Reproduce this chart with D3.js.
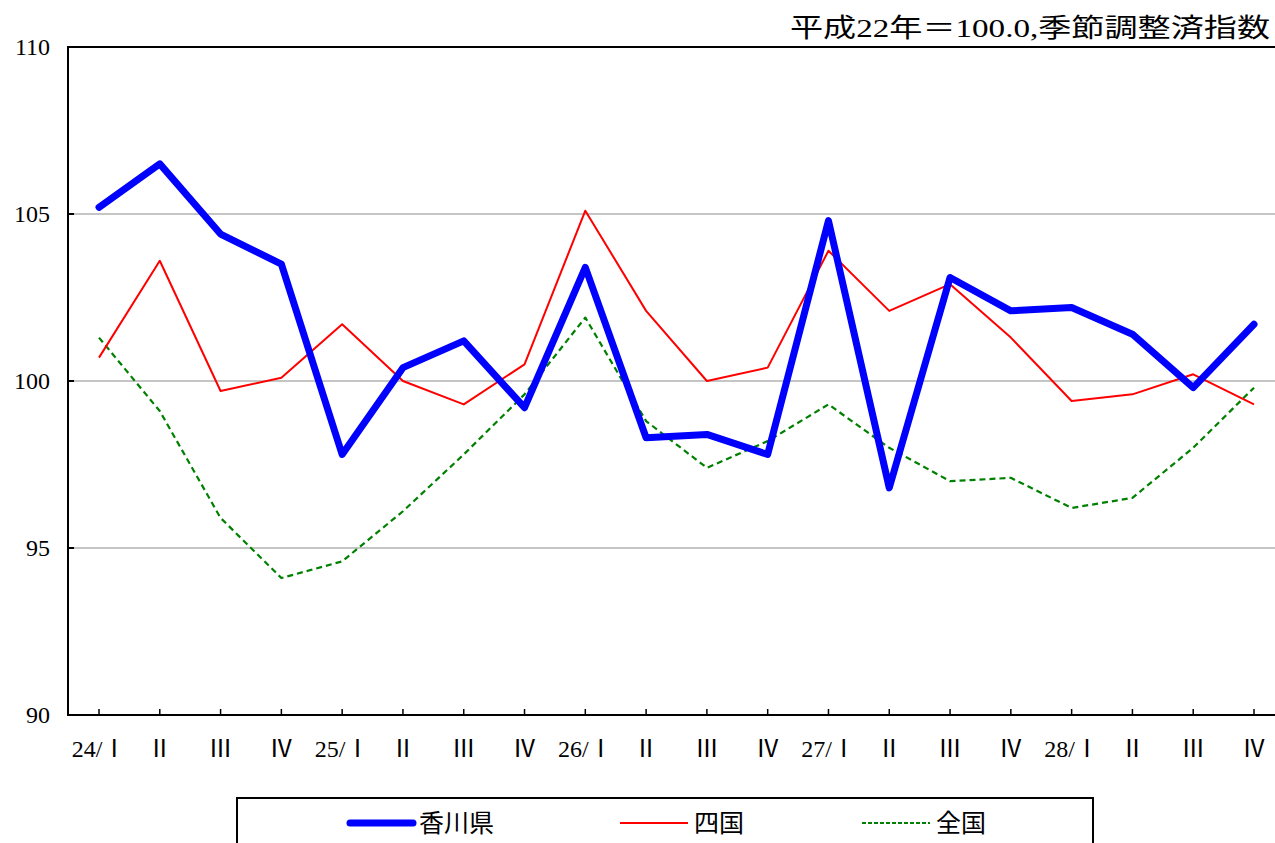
<!DOCTYPE html>
<html lang="ja">
<head>
<meta charset="utf-8">
<title>香川県 指数</title>
<script src="https://d3js.org/d3.v7.min.js"></script>
<style>
  body { margin: 0; background: #fff; }
  text { font-family: "Liberation Serif", "Noto Sans CJK JP", serif; }
</style>
</head>
<body>
<script>
// quarters, 24/I .. 28/IV
const quarters = ["24/Ⅰ", "Ⅱ", "Ⅲ", "Ⅳ", "25/Ⅰ", "Ⅱ", "Ⅲ", "Ⅳ", "26/Ⅰ", "Ⅱ", "Ⅲ", "Ⅳ",
                  "27/Ⅰ", "Ⅱ", "Ⅲ", "Ⅳ", "28/Ⅰ", "Ⅱ", "Ⅲ", "Ⅳ"];
const kagawa   = [105.2, 106.5, 104.4, 103.5, 97.8, 100.4, 101.2, 99.2, 103.4, 98.3, 98.4, 97.8,
                  104.8, 96.8, 103.1, 102.1, 102.2, 101.4, 99.8, 101.7];
const shikoku  = [100.7, 103.6, 99.7, 100.1, 101.7, 100.0, 99.3, 100.5, 105.1, 102.1, 100.0, 100.4,
                  103.9, 102.1, 102.9, 101.3, 99.4, 99.6, 100.2, 99.3];
const zenkoku  = [101.3, 99.1, 95.9, 94.1, 94.6, 96.1, 97.8, 99.6, 101.9, 98.8, 97.4, 98.2,
                  99.3, 98.0, 97.0, 97.1, 96.2, 96.5, 98.0, 99.8];
const yTicks = [90, 95, 100, 105, 110];

const W = 1275, H = 843;
const plotL = 68, plotR = 1275, plotT = 47, plotB = 715;

const svg = d3.select("body").append("svg")
  .attr("width", W).attr("height", H);

// category centres sit 30 px in from the left axis, last one near the right edge
const x = d3.scalePoint()
  .domain(d3.range(quarters.length))
  .range([99, 1254]);

const y = d3.scaleLinear().domain([90, 110]).range([plotB, plotT]);

// gridlines
svg.append("g")
  .selectAll("line")
  .data([95, 100, 105])
  .join("line")
  .attr("x1", plotL).attr("x2", plotR)
  .attr("y1", d => y(d)).attr("y2", d => y(d))
  .attr("stroke", "#8c8c8c").attr("stroke-width", 1.2);

// frame: left, top, bottom
svg.append("path")
  .attr("d", `M${plotR},${plotT}H${plotL}V${plotB}H${plotR}`)
  .attr("fill", "none").attr("stroke", "#000").attr("stroke-width", 2);

// y ticks
svg.append("g").selectAll("line")
  .data(yTicks)
  .join("line")
  .attr("x1", plotL).attr("x2", plotL + 6)
  .attr("y1", d => y(d)).attr("y2", d => y(d))
  .attr("stroke", "#000").attr("stroke-width", 2);

svg.append("g").selectAll("text")
  .data(yTicks)
  .join("text")
  .attr("x", 50).attr("y", d => y(d))
  .attr("dy", "0.35em")
  .attr("text-anchor", "end")
  .attr("font-size", 24)
  .text(d => d);

// x ticks
svg.append("g").selectAll("line")
  .data(d3.range(quarters.length))
  .join("line")
  .attr("x1", d => x(d)).attr("x2", d => x(d))
  .attr("y1", plotB).attr("y2", plotB - 6)
  .attr("stroke", "#000").attr("stroke-width", 1.5);

svg.append("g").selectAll("text")
  .data(quarters)
  .join("text")
  .attr("x", (d, i) => x(i)).attr("y", 757)
  .attr("text-anchor", "middle")
  .attr("font-size", 24)
  .text(d => d);

// unit note
svg.append("text")
  .attr("x", 1270).attr("y", 37)
  .attr("text-anchor", "end")
  .attr("font-size", 26)
  .attr("textLength", 480)
  .attr("lengthAdjust", "spacingAndGlyphs")
  .text("平成22年＝100.0,季節調整済指数");

const line = d3.line().x((d, i) => x(i)).y(d => y(d));

const series = [
  { name: "全国", values: zenkoku, color: "#008000", width: 2.2, dash: "6,4" },
  { name: "四国", values: shikoku, color: "#ff0000", width: 2, dash: null },
  { name: "香川県", values: kagawa, color: "#0000ff", width: 7, dash: null }
];

svg.append("g").selectAll("path")
  .data(series)
  .join("path")
  .attr("d", d => line(d.values))
  .attr("fill", "none")
  .attr("stroke", d => d.color)
  .attr("stroke-width", d => d.width)
  .attr("stroke-dasharray", d => d.dash)
  .attr("stroke-linejoin", "round")
  .attr("stroke-linecap", d => d.width > 3 ? "round" : "butt");

// legend
svg.append("rect")
  .attr("x", 237).attr("y", 798)
  .attr("width", 856).attr("height", 60)
  .attr("fill", "#fff").attr("stroke", "#000").attr("stroke-width", 2);

const legendItems = [
  { name: "香川県", color: "#0000ff", width: 7, dash: null, x0: 350, x1: 413 },
  { name: "四国", color: "#ff0000", width: 2, dash: null, x0: 620, x1: 688 },
  { name: "全国", color: "#008000", width: 2.2, dash: "4,2", x0: 862, x1: 930 }
];

const lg = svg.append("g").selectAll("g")
  .data(legendItems)
  .join("g");

lg.append("line")
  .attr("x1", d => d.x0).attr("x2", d => d.x1)
  .attr("y1", 823).attr("y2", 823)
  .attr("stroke", d => d.color)
  .attr("stroke-width", d => d.width)
  .attr("stroke-dasharray", d => d.dash)
  .attr("stroke-linecap", d => d.width > 3 ? "round" : "butt");

lg.append("text")
  .attr("x", d => d.x1 + 6).attr("y", 823)
  .attr("dy", "0.36em")
  .attr("font-size", 25)
  .attr("font-family", "Noto Sans CJK JP")
  .text(d => d.name);
</script>
</body>
</html>
